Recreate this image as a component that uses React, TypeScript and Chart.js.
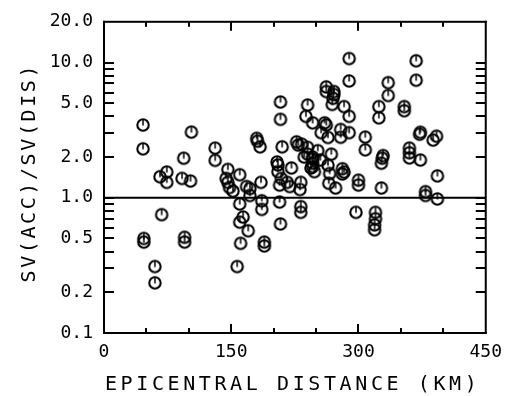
import React, { useEffect, useRef } from "react";
import { Chart, registerables } from "chart.js";

Chart.register(...registerables);

// ---- data ----
const distanceKm = [
  46, 46, 47, 47, 60, 60, 68, 66, 74, 74, 94, 92, 95, 95, 102, 103,
  131, 131, 146, 144, 146, 148, 160, 152, 160, 164, 160, 170, 161, 157, 168, 172, 172, 185,
  180, 181, 184, 186, 186, 189, 189,
  204, 205, 205, 209, 207, 207, 208, 208, 208, 210, 221, 219, 216, 227, 229, 232, 231, 232, 232,
  240, 238, 233, 240, 236, 246, 246, 244, 248, 252, 256, 260, 262, 262, 271, 271, 270, 269,
  283, 289, 289, 289, 289, 279, 279, 264, 268, 264, 266, 265, 273, 281, 281, 283, 297,
  300, 300, 308, 308, 320, 320, 319, 319, 324, 324, 329, 328, 327, 327, 335, 335,
  354, 354, 360, 360, 360, 368, 368, 372, 373, 373, 379, 379, 388, 392, 393, 393,
  240, 246, 246, 246, 262, 255,
];
const ratio = [
  3.45, 2.3, 0.5, 0.47, 0.31, 0.235, 0.75, 1.43, 1.55, 1.3, 1.96, 1.39, 0.51, 0.47, 1.33, 3.06,
  2.33, 1.89, 1.62, 1.39, 1.3, 1.19, 1.48, 1.12, 0.9, 0.72, 0.66, 0.57, 0.46, 0.31, 1.21, 1.17, 1.04, 1.3,
  2.75, 2.62, 2.38, 0.95, 0.82, 0.47, 0.44,
  1.84, 1.75, 1.56, 1.39, 1.24, 0.93, 0.64, 5.1, 3.8, 2.38, 1.66, 1.21, 1.3, 2.59, 2.45, 1.3, 1.15, 0.86, 0.78,
  4.85, 4.0, 2.49, 2.36, 2.0, 3.58, 1.94, 1.66, 1.56, 2.23, 3.03, 3.58, 6.6, 6.1, 6.1, 5.8, 5.44, 4.9,
  4.72, 4.0, 10.7, 7.3, 3.03, 3.2, 2.8, 2.79, 2.1, 1.74, 1.51, 1.28, 1.18, 1.64, 1.5, 1.55, 0.78,
  1.35, 1.24, 2.81, 2.26, 0.78, 0.7, 0.63, 0.58, 4.72, 3.9, 2.05, 1.96, 1.8, 1.18, 7.1, 5.7,
  4.72, 4.4, 2.33, 2.15, 1.97, 10.3, 7.4, 2.95, 3.05, 1.9, 1.11, 1.04, 2.67, 2.85, 1.45, 0.98,
  2.1, 2.0, 1.8, 1.7, 3.45, 1.9,
];

const yTickValues = [0.1, 0.2, 0.3, 0.4, 0.5, 0.6, 0.7, 0.8, 0.9, 1, 2, 3, 4, 5, 6, 7, 8, 9, 10, 20];
const yLabelValues = [0.1, 0.2, 0.5, 1, 2, 5, 10, 20];
const yLabelTexts = ["0.1", "0.2", "0.5", "1.0", "2.0", "5.0", "10.0", "20.0"];
const xLabelValues = [0, 150, 300, 450];
const xLabelTexts = ["0", "150", "300", "450"];
const xMin = 0;
const xMax = 450;
const xStep = 50;
const yMin = 0.1;
const yMax = 20;
const referenceLevel = 1.0;
const xTitle = "EPICENTRAL DISTANCE (KM)";
const yTitle = "SV(ACC)/SV(DIS)";

const FONT = "'DejaVu Sans Mono', monospace";

function makeMarker(): HTMLCanvasElement {
  const c = document.createElement("canvas");
  c.width = 18;
  c.height = 18;
  const g = c.getContext("2d")!;
  g.strokeStyle = "#000";
  g.lineWidth = 2.1;
  g.beginPath();
  g.arc(9, 9, 5.7, 0, Math.PI * 2);
  g.stroke();
  g.lineWidth = 1.5;
  g.beginPath();
  g.moveTo(9, 3.5);
  g.lineTo(9, 9.5);
  g.stroke();
  return c;
}

const framePlugin = {
  id: "frameTicks",
  afterDraw(chart: any) {
    const { ctx, chartArea, scales } = chart;
    const { left, right, top, bottom } = chartArea;
    const x = scales.x;
    const y = scales.y;

    ctx.save();
    ctx.fillStyle = "#000";
    // frame (2px)
    ctx.fillRect(left - 1, top - 1, right - left + 2, 2);
    ctx.fillRect(left - 1, bottom - 1, right - left + 2, 2);
    ctx.fillRect(left - 1, top - 1, 2, bottom - top + 2);
    ctx.fillRect(right - 1, top - 1, 2, bottom - top + 2);
    // inward ticks on the log axis
    for (const v of yTickValues) {
      if (v === yMin || v === yMax) continue;
      const py = Math.round(y.getPixelForValue(v));
      ctx.fillRect(left, py - 1, 10, 2);
      ctx.fillRect(right - 10, py - 1, 10, 2);
    }
    // inward ticks on the distance axis
    for (let v = xMin + xStep; v < xMax; v += xStep) {
      const px = Math.round(x.getPixelForValue(v));
      const L = v % 150 === 0 ? 9 : 5;
      ctx.fillRect(px - 1, bottom - L, 2, L);
      ctx.fillRect(px - 1, top, 2, L);
    }
    ctx.restore();

    ctx.save();
    ctx.fillStyle = "#000";
    ctx.font = `20px ${FONT}`;
    const sp = 3.6;
    (ctx as any).letterSpacing = `${sp}px`;
    ctx.textBaseline = "alphabetic";
    ctx.textAlign = "left";
    const wx = ctx.measureText(xTitle).width;
    const cx = (left + right) / 2 - 4;
    ctx.fillText(xTitle, cx - wx / 2 + sp / 2, 390);
    ctx.restore();

    ctx.save();
    ctx.fillStyle = "#000";
    ctx.font = `20px ${FONT}`;
    const sp2 = 2.6;
    (ctx as any).letterSpacing = `${sp2}px`;
    ctx.textBaseline = "alphabetic";
    ctx.textAlign = "left";
    const wy = ctx.measureText(yTitle).width;
    const cy = 174;
    ctx.translate(35, cy);
    ctx.rotate(-Math.PI / 2);
    ctx.fillText(yTitle, -wy / 2 + sp2 / 2, 0);
    ctx.restore();
  },
};

export default function App() {
  const ref = useRef<HTMLCanvasElement | null>(null);
  useEffect(() => {
    if (!ref.current) return;
    const marker = makeMarker();
    const points = distanceKm.map((d, i) => ({ x: d, y: ratio[i] }));
    const chart = new Chart(ref.current, {
      type: "scatter",
      data: {
        datasets: [
          {
            type: "line",
            data: [
              { x: xMin, y: referenceLevel },
              { x: xMax, y: referenceLevel },
            ],
            borderColor: "#000",
            borderWidth: 1.8,
            pointRadius: 0,
            fill: false,
          } as any,
          {
            data: points,
            pointStyle: marker as any,
            pointRadius: 7,
            backgroundColor: "#000",
            borderColor: "#000",
          },
        ],
      },
      options: {
        responsive: false,
        animation: false,
        devicePixelRatio: 1,
        layout: { padding: { top: 15, right: 22, left: 0, bottom: 0 } },
        plugins: { legend: { display: false }, tooltip: { enabled: false }, title: { display: false } },
        scales: {
          x: {
            type: "linear",
            min: xMin,
            max: xMax,
            grid: { display: false, drawTicks: false },
            border: { display: false },
            ticks: {
              stepSize: xStep,
              autoSkip: false,
              maxRotation: 0,
              padding: 9,
              color: "#000",
              font: { family: FONT, size: 18 },
              callback: (v: any) => {
                const i = xLabelValues.indexOf(Number(v));
                return i >= 0 ? xLabelTexts[i] : "";
              },
            },
            afterFit: (s: any) => {
              s.height = 63;
            },
          },
          y: {
            type: "logarithmic",
            min: yMin,
            max: yMax,
            grid: { display: false, drawTicks: false },
            border: { display: false },
            afterBuildTicks: (s: any) => {
              s.ticks = yTickValues.map((v) => ({ value: v }));
            },
            ticks: {
              autoSkip: false,
              padding: 11,
              color: "#000",
              font: { family: FONT, size: 18 },
              callback: (v: any) => {
                const i = yLabelValues.indexOf(Number(v));
                return i >= 0 ? yLabelTexts[i] : "";
              },
            },
            afterFit: (s: any) => {
              s.width = 104;
            },
          },
        },
      },
      plugins: [framePlugin],
    });
    return () => chart.destroy();
  }, []);
  return (
    <div style={{ position: "absolute", left: 0, top: 0, width: 511, height: 396, background: "#fff" }}>
      <canvas ref={ref} width={511} height={396} style={{ display: "block" }} />
    </div>
  );
}
